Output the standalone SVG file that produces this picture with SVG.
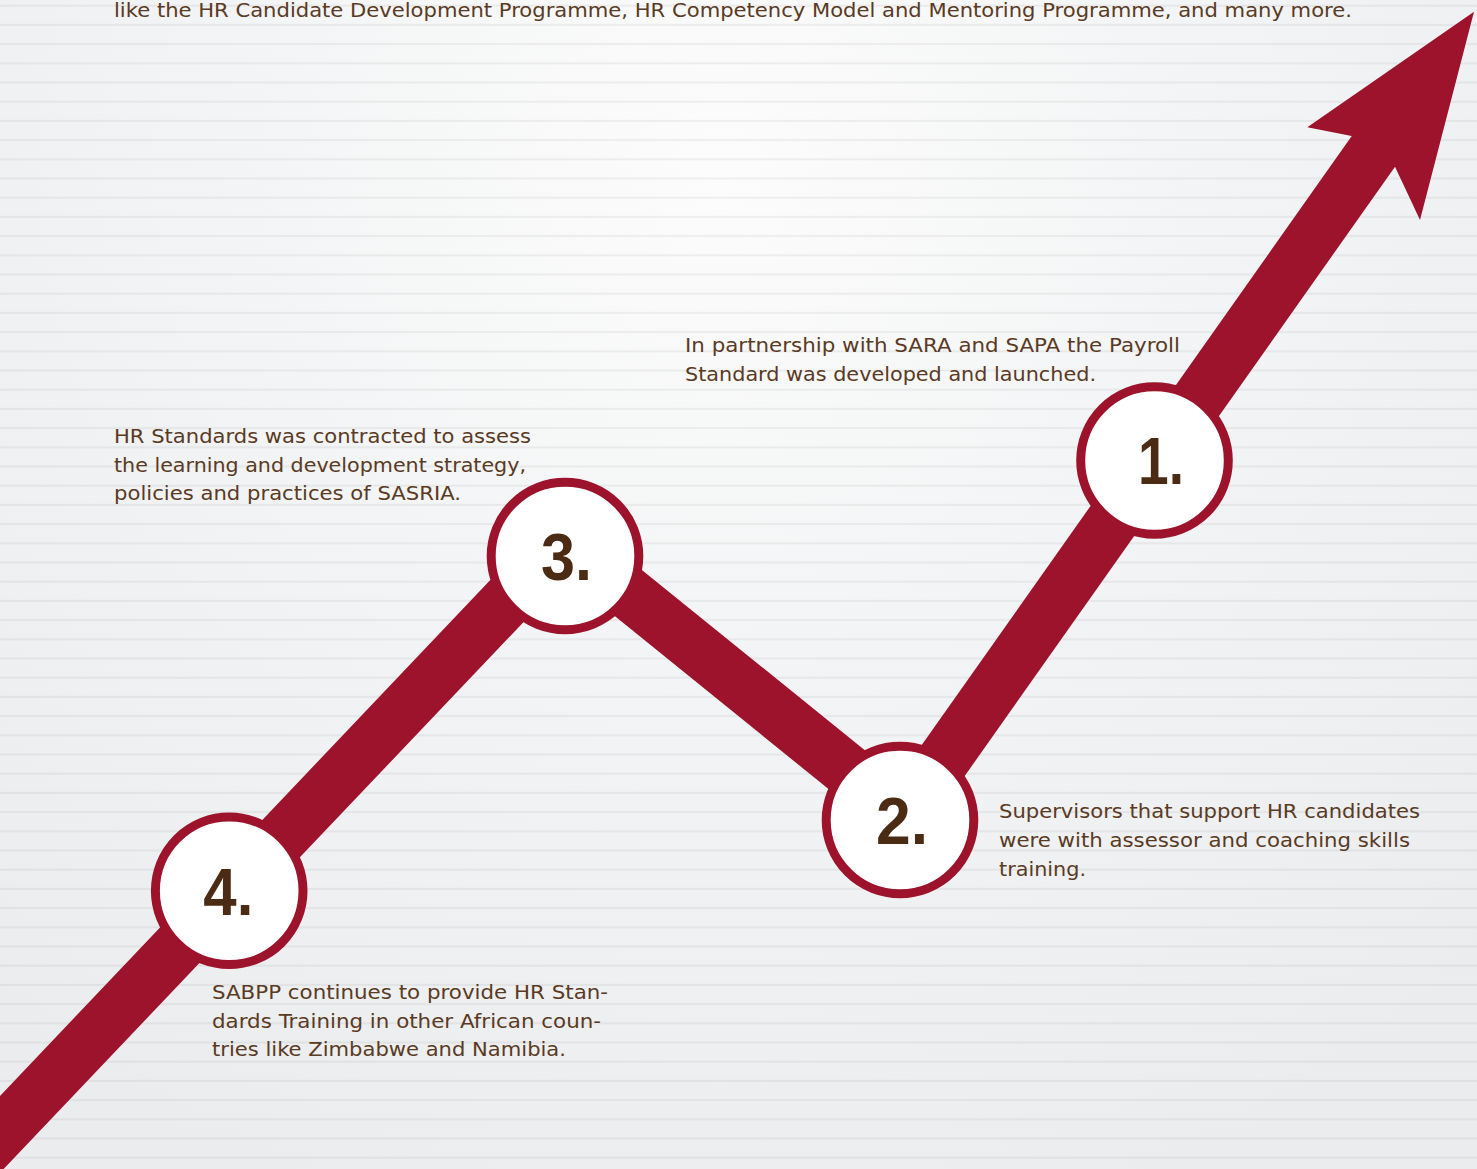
<svg xmlns="http://www.w3.org/2000/svg" width="1477" height="1169" viewBox="0 0 1477 1169">
  <defs>
    <radialGradient id="bgGlow" cx="720" cy="170" r="1100" gradientUnits="userSpaceOnUse">
      <stop offset="0" stop-color="#fcfcfc"/>
      <stop offset="0.45" stop-color="#f3f4f5"/>
      <stop offset="1" stop-color="#eaecee"/>
    </radialGradient>
    <pattern id="rules" patternUnits="userSpaceOnUse" x="0" y="0" width="1477" height="19.2">
      <rect x="0" y="4.7" width="1477" height="2" fill="#000" fill-opacity="0.05"/>
    </pattern>
    <style>
      .band { fill: none; stroke: #9d132b; stroke-width: 53; stroke-linejoin: round; }
      .head { fill: #9d132b; }
      .ring { fill: #ffffff; stroke: #9d132b; stroke-width: 9; }
      .num { font-family: "Liberation Sans", Arial, sans-serif; font-weight: bold; font-size: 67px; fill: #4b2b13; }
      .copy { font-family: "DejaVu Sans", "Liberation Sans", sans-serif; font-size: 19.6px; fill: #5a3a23; }
    </style>
  </defs>

  <!-- backdrop: soft glow with ruled lines -->
  <rect width="1477" height="1169" fill="url(#bgGlow)"/>
  <rect width="1477" height="1169" fill="url(#rules)"/>

  <!-- rising path with arrowhead -->
  <g id="connectors">
    <polyline class="band" points="-70,1208 564,541 904,816 1390.7,126.9"/>
    <polygon class="head" points="1351.7,136 1307.3,127.3 1474,11.7 1420,220 1395,166.7"/>
  </g>

  <g id="step-1">
    <circle class="ring" cx="1154.5" cy="460.5" r="73.8"/>
    <text class="num" x="1138" y="484" textLength="46" lengthAdjust="spacingAndGlyphs">1.</text>
  </g>
  <g id="step-2">
    <circle class="ring" cx="900" cy="820" r="73.8"/>
    <text class="num" x="876" y="844" textLength="52" lengthAdjust="spacingAndGlyphs">2.</text>
  </g>
  <g id="step-3">
    <circle class="ring" cx="565" cy="556" r="73.8"/>
    <text class="num" x="541" y="580" textLength="51" lengthAdjust="spacingAndGlyphs">3.</text>
  </g>
  <g id="step-4">
    <circle class="ring" cx="229.2" cy="890.8" r="73.8"/>
    <text class="num" x="203.3" y="915" textLength="50" lengthAdjust="spacingAndGlyphs">4.</text>
  </g>

  <!-- captions -->
  <g id="intro-text">
    <text class="copy" x="114" y="17" textLength="1238" lengthAdjust="spacingAndGlyphs">like the HR Candidate Development Programme, HR Competency Model and Mentoring Programme, and many more.</text>
  </g>
  <g id="caption-1">
    <text class="copy" x="685" y="352" textLength="495" lengthAdjust="spacingAndGlyphs">In partnership with SARA and SAPA the Payroll</text>
    <text class="copy" x="685" y="381" textLength="411" lengthAdjust="spacingAndGlyphs">Standard was developed and launched.</text>
  </g>
  <g id="caption-2">
    <text class="copy" x="999" y="818" textLength="421" lengthAdjust="spacingAndGlyphs">Supervisors that support HR candidates</text>
    <text class="copy" x="999" y="847" textLength="411" lengthAdjust="spacingAndGlyphs">were with assessor and coaching skills</text>
    <text class="copy" x="999" y="876" textLength="87" lengthAdjust="spacingAndGlyphs">training.</text>
  </g>
  <g id="caption-3">
    <text class="copy" x="114" y="443" textLength="417" lengthAdjust="spacingAndGlyphs">HR Standards was contracted to assess</text>
    <text class="copy" x="114" y="472" textLength="412" lengthAdjust="spacingAndGlyphs">the learning and development strategy,</text>
    <text class="copy" x="114" y="500" textLength="347" lengthAdjust="spacingAndGlyphs">policies and practices of SASRIA.</text>
  </g>
  <g id="caption-4">
    <text class="copy" x="212" y="999" textLength="396" lengthAdjust="spacingAndGlyphs">SABPP continues to provide HR Stan-</text>
    <text class="copy" x="212" y="1028" textLength="389" lengthAdjust="spacingAndGlyphs">dards Training in other African coun-</text>
    <text class="copy" x="212" y="1056" textLength="354" lengthAdjust="spacingAndGlyphs">tries like Zimbabwe and Namibia.</text>
  </g>
</svg>
